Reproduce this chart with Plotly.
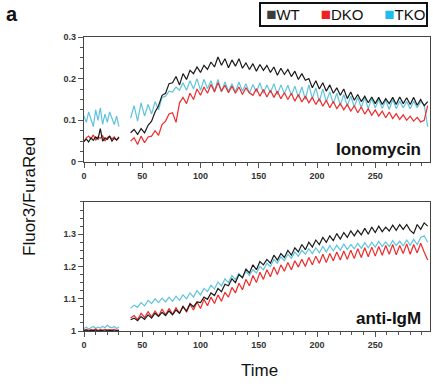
import plotly.graph_objects as go

# ---------------- data ----------------
time_pre = list(range(0, 31, 2))      # 0..30
time_post = list(range(40, 296, 3))   # 40..295

iono_wt_pre = [0.05, 0.055, 0.048, 0.058, 0.052, 0.06, 0.055, 0.08, 0.05, 0.058, 0.054, 0.062, 0.05, 0.057, 0.053, 0.06]
iono_dko_pre = [0.048, 0.058, 0.062, 0.055, 0.065, 0.052, 0.06, 0.057, 0.063, 0.05, 0.058, 0.062, 0.055, 0.06, 0.052, 0.058]
iono_tko_pre = [0.11, 0.095, 0.12, 0.1, 0.085, 0.125, 0.1, 0.13, 0.09, 0.115, 0.095, 0.12, 0.105, 0.09, 0.11, 0.085]

iono_wt_post = [0.07, 0.078, 0.066, 0.08, 0.07, 0.088, 0.098, 0.12, 0.135, 0.16,
                0.165, 0.188, 0.19, 0.205, 0.185, 0.212, 0.198, 0.22, 0.212, 0.228,
                0.215, 0.232, 0.222, 0.24, 0.228, 0.252, 0.232, 0.248, 0.226, 0.245,
                0.23, 0.248, 0.225, 0.238, 0.222, 0.236, 0.218, 0.234, 0.22, 0.232,
                0.215, 0.228, 0.208, 0.225, 0.21, 0.222, 0.205, 0.218, 0.198, 0.212,
                0.196, 0.2, 0.178, 0.195, 0.175, 0.19, 0.17, 0.185, 0.165, 0.178,
                0.16, 0.175, 0.152, 0.168, 0.148, 0.162, 0.145, 0.158, 0.142, 0.156,
                0.14, 0.155, 0.138, 0.152, 0.14, 0.155, 0.138, 0.156, 0.14, 0.154,
                0.138, 0.155, 0.136, 0.15, 0.135, 0.145]
iono_dko_post = [0.05, 0.058, 0.042, 0.062, 0.046, 0.06, 0.062, 0.075, 0.064, 0.09,
                 0.098, 0.115, 0.118, 0.095, 0.142, 0.155, 0.14, 0.165, 0.15, 0.175,
                 0.16, 0.18, 0.165, 0.186, 0.168, 0.19, 0.17, 0.184, 0.166, 0.182,
                 0.165, 0.18, 0.162, 0.178, 0.166, 0.16, 0.176, 0.158, 0.174, 0.156,
                 0.172, 0.155, 0.17, 0.152, 0.166, 0.15, 0.165, 0.146, 0.162, 0.144,
                 0.158, 0.142, 0.155, 0.138, 0.152, 0.134, 0.148, 0.13, 0.145, 0.128,
                 0.14, 0.125, 0.138, 0.122, 0.135, 0.118, 0.132, 0.115, 0.128, 0.112,
                 0.125, 0.11, 0.122, 0.106, 0.12, 0.104, 0.116, 0.102, 0.113, 0.1,
                 0.11, 0.098, 0.107, 0.096, 0.1, 0.135]
iono_tko_post = [0.105, 0.135, 0.098, 0.142, 0.11, 0.138, 0.115, 0.145, 0.125, 0.155,
                 0.158, 0.17, 0.168, 0.18, 0.172, 0.19, 0.172, 0.195, 0.175, 0.2,
                 0.172, 0.198, 0.176, 0.195, 0.17, 0.198, 0.168, 0.192, 0.17, 0.188,
                 0.168, 0.192, 0.17, 0.188, 0.165, 0.186, 0.168, 0.19, 0.165, 0.185,
                 0.166, 0.188, 0.162, 0.185, 0.164, 0.184, 0.16, 0.182, 0.155, 0.18,
                 0.15, 0.185, 0.152, 0.178, 0.145, 0.175, 0.145, 0.168, 0.14, 0.165,
                 0.136, 0.162, 0.134, 0.158, 0.132, 0.155, 0.13, 0.155, 0.128, 0.152,
                 0.13, 0.15, 0.128, 0.148, 0.126, 0.15, 0.128, 0.146, 0.13, 0.145,
                 0.128, 0.146, 0.13, 0.144, 0.138, 0.085]

igm_wt_pre = [1.001, 1.003, 1.0, 1.002, 1.001, 1.003, 1.0, 1.002, 1.001, 1.0, 1.003, 1.001, 1.002, 1.0, 1.001, 1.002]
igm_dko_pre = [1.003, 1.005, 1.002, 1.004, 1.003, 1.006, 1.002, 1.004, 1.003, 1.005, 1.002, 1.004, 1.003, 1.005, 1.002, 1.003]
igm_tko_pre = [1.008, 1.012, 1.006, 1.01, 1.014, 1.008, 1.012, 1.009, 1.015, 1.01, 1.018, 1.012, 1.01, 1.014, 1.008, 1.012]

igm_wt_post = [1.035, 1.04, 1.032, 1.045, 1.036, 1.05, 1.04, 1.055, 1.045, 1.058,
               1.048, 1.062, 1.05, 1.065, 1.055, 1.075, 1.062, 1.085, 1.075, 1.09,
               1.088, 1.105, 1.098, 1.118, 1.11, 1.132, 1.122, 1.145, 1.14, 1.162,
               1.15, 1.175, 1.165, 1.192, 1.18, 1.205, 1.19, 1.215, 1.205, 1.222,
               1.21, 1.235, 1.22, 1.24, 1.228, 1.25, 1.235, 1.258, 1.245, 1.268,
               1.252, 1.275, 1.26, 1.282, 1.268, 1.29, 1.275, 1.295, 1.28, 1.302,
               1.285, 1.305, 1.29, 1.31, 1.295, 1.312, 1.298, 1.318, 1.3, 1.322,
               1.305, 1.325, 1.308, 1.322, 1.31, 1.328, 1.312, 1.33, 1.315, 1.33,
               1.312, 1.302, 1.33, 1.315, 1.335, 1.325]
igm_dko_post = [1.04, 1.048, 1.035, 1.055, 1.042, 1.06, 1.044, 1.062, 1.046, 1.068,
                1.05, 1.07, 1.052, 1.072, 1.055, 1.078, 1.058, 1.082, 1.065, 1.09,
                1.07, 1.098, 1.078, 1.105, 1.085, 1.112, 1.092, 1.12, 1.105, 1.135,
                1.118, 1.148, 1.128, 1.16, 1.14, 1.172, 1.15, 1.182, 1.16, 1.19,
                1.168, 1.198, 1.175, 1.205, 1.185, 1.212, 1.19, 1.218, 1.198, 1.222,
                1.2, 1.228, 1.205, 1.232, 1.21, 1.238, 1.212, 1.24, 1.218, 1.245,
                1.22, 1.248, 1.222, 1.25, 1.225, 1.255, 1.228, 1.258, 1.23, 1.26,
                1.232, 1.262, 1.235, 1.265, 1.238, 1.268, 1.236, 1.265, 1.24, 1.27,
                1.238, 1.268, 1.242, 1.272, 1.245, 1.22]
igm_tko_post = [1.07, 1.08, 1.074, 1.088, 1.078, 1.095, 1.085, 1.1, 1.088, 1.102,
                1.09, 1.105, 1.092, 1.108, 1.095, 1.112, 1.1, 1.118, 1.105, 1.125,
                1.112, 1.132, 1.122, 1.142, 1.13, 1.152, 1.14, 1.162, 1.15, 1.172,
                1.16, 1.178, 1.165, 1.185, 1.172, 1.19, 1.18, 1.2, 1.19, 1.21,
                1.2, 1.222, 1.21, 1.23, 1.218, 1.238, 1.225, 1.245, 1.232, 1.25,
                1.238, 1.255, 1.24, 1.258, 1.242, 1.262, 1.245, 1.265, 1.248, 1.266,
                1.25, 1.27, 1.252, 1.268, 1.255, 1.272, 1.256, 1.274, 1.258, 1.275,
                1.26, 1.278, 1.262, 1.276, 1.262, 1.28, 1.265, 1.278, 1.264, 1.282,
                1.266, 1.284, 1.268, 1.29, 1.295, 1.275]

series_names = ["WT", "DKO", "TKO"]
line_colors = {"WT": "#1a1a1a", "DKO": "#ee2a2a", "TKO": "#5fc4dc"}
legend_colors = {"WT": "#3c3c3c", "DKO": "#ee2222", "TKO": "#1ebbee"}

top_x_ticks = [0, 50, 100, 150, 200, 250]
top_y_ticks = [0, 0.1, 0.2, 0.3]
top_y_labels = ["0", "0.1", "0.2", "0.3"]
bot_y_ticks = [1.0, 1.1, 1.2, 1.3]
bot_y_labels = ["1", "1.1", "1.2", "1.3"]

# ---------------- figure ----------------
x_all = time_pre + [35] + time_post

def join(pre, post):
    return pre + [None] + post

panels = {
    ("x", "y"): {"WT": join(iono_wt_pre, iono_wt_post),
                 "DKO": join(iono_dko_pre, iono_dko_post),
                 "TKO": join(iono_tko_pre, iono_tko_post)},
    ("x2", "y2"): {"WT": join(igm_wt_pre, igm_wt_post),
                   "DKO": join(igm_dko_pre, igm_dko_post),
                   "TKO": join(igm_tko_pre, igm_tko_post)},
}

fig = go.Figure()
for (xa, ya), data in panels.items():
    for name in ["TKO", "DKO", "WT"]:
        fig.add_trace(go.Scatter(x=x_all, y=data[name], mode="lines", xaxis=xa, yaxis=ya,
                                 line=dict(color=line_colors[name], width=1.2),
                                 connectgaps=False, showlegend=False, hoverinfo="skip"))

tickfont = dict(family="Liberation Sans, Arial", size=9, color="#333333", weight="bold")
axis_common = dict(showline=True, linecolor="#444444", linewidth=1.3, mirror=True,
                   ticks="outside", tickcolor="#555555", ticklen=5, tickwidth=1,
                   showgrid=False, zeroline=False, tickfont=tickfont)

fig.update_layout(
    width=433, height=389,
    margin=dict(l=84, r=3, t=37, b=58),
    plot_bgcolor="white", paper_bgcolor="white",
    showlegend=False,
    xaxis=dict(domain=[0, 1], range=[0, 297], anchor="y", tickvals=top_x_ticks,
               minor=dict(dtick=10, ticklen=3, ticks="outside", tickcolor="#555555"), **axis_common),
    yaxis=dict(domain=[0.575, 1], range=[0, 0.3], anchor="x", tickvals=top_y_ticks, ticktext=top_y_labels,
               minor=dict(dtick=0.025, ticklen=3, ticks="outside", tickcolor="#555555"), **axis_common),
    xaxis2=dict(domain=[0, 1], range=[0, 297], anchor="y2", tickvals=top_x_ticks,
                minor=dict(dtick=10, ticklen=3, ticks="outside", tickcolor="#555555"), **axis_common),
    yaxis2=dict(domain=[0, 0.439], range=[1.0, 1.4], anchor="x2", tickvals=bot_y_ticks, ticktext=bot_y_labels,
                minor=dict(tick0=1.0, dtick=0.025, ticklen=3, ticks="outside", tickcolor="#555555"), **axis_common),
)

# legend box
legend_text = "&nbsp;&nbsp;&nbsp;&nbsp;&nbsp;".join(
    f"<span style='color:{legend_colors[n]};font-size:17px'>■</span>{n}" for n in series_names)
fig.add_annotation(text="&nbsp;" + legend_text, xref="paper", yref="paper", x=0.994, y=1.119,
                   xanchor="right", yanchor="top", showarrow=False,
                   bordercolor="#111111", borderwidth=2, borderpad=1, bgcolor="white",
                   font=dict(family="Liberation Sans, Arial", size=15, color="#111111"))

fig.add_annotation(text="<b>a</b>", xref="paper", yref="paper", x=-0.208, y=1.078,
                   xanchor="center", yanchor="middle", showarrow=False,
                   font=dict(family="Liberation Sans, Arial", size=20, color="#111111"))
fig.add_annotation(text="Fluor3/FuraRed", xref="paper", yref="paper", x=-0.156, y=0.456,
                   xanchor="center", yanchor="middle", textangle=-90, showarrow=False,
                   font=dict(family="Liberation Sans, Arial", size=17, color="#111111"))
fig.add_annotation(text="Time", xref="paper", yref="paper", x=0.506, y=-0.133,
                   xanchor="center", yanchor="middle", showarrow=False,
                   font=dict(family="Liberation Sans, Arial", size=17, color="#111111"))
fig.add_annotation(text="<b>Ionomycin</b>", xref="x domain", yref="y domain", x=0.98, y=0.1,
                   xanchor="right", yanchor="middle", showarrow=False,
                   font=dict(family="Liberation Sans, Arial", size=17, color="#111111"))
fig.add_annotation(text="<b>anti-IgM</b>", xref="x2 domain", yref="y2 domain", x=0.98, y=0.1,
                   xanchor="right", yanchor="middle", showarrow=False,
                   font=dict(family="Liberation Sans, Arial", size=17, color="#111111"))

fig.write_html("out.html")
